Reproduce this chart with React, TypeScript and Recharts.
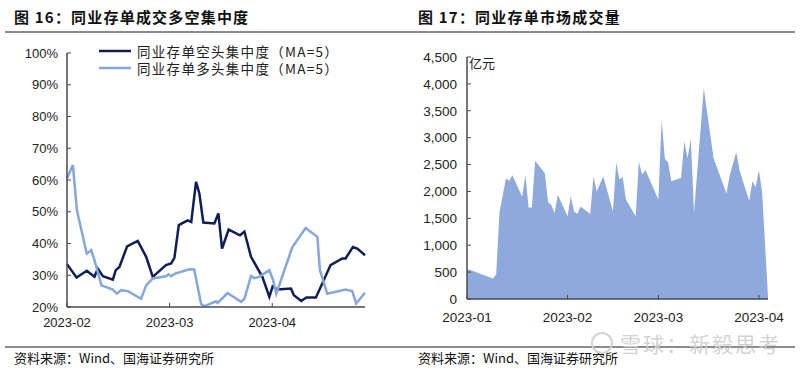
import React from 'react'
import {
  LineChart, Line, AreaChart, Area, XAxis, YAxis, Legend
} from 'recharts'

// 图16: 同业存单多空集中度 (MA=5), x = position index, 0 = 2023-02
const shortX = [0, 2.6, 5.4, 7.5, 8.4, 9.8, 12.5, 13.3, 14.3, 16.4, 19.3, 21.6, 23.4, 27, 28.4, 29.3, 30.5, 32.9, 33.9, 35.2, 36.1, 37.2, 40.2, 41.3, 42.3, 44.1, 47.2, 48.4, 50.2, 53.3, 55.2, 56.1, 57.4, 61.1, 61.9, 63.9, 65.3, 67.9, 69.4, 71.9, 75.1, 76, 78, 79.2, 81.3]
const shortY = [33.5, 29.3, 31.4, 29.5, 32.1, 29.7, 28.6, 31.6, 32.6, 39.1, 40.8, 35.8, 29.5, 33.2, 33.7, 35.5, 45.8, 47.3, 46.8, 59.4, 55.8, 46.6, 46.3, 49.5, 38.4, 44.4, 42.6, 43.7, 35.8, 29.5, 23.2, 26.5, 25.5, 25.8, 23.7, 21.9, 23.0, 23.0, 26.8, 33.2, 35.3, 35.3, 38.9, 38.4, 36.3]
const longX = [0, 1.6, 2.7, 5.4, 6.6, 7.5, 9.4, 12.5, 13.6, 14.8, 16.6, 20.2, 21.6, 23.4, 27, 27.7, 28.4, 29.5, 33.4, 34.7, 36.6, 37.5, 40.7, 41.1, 43.8, 47.5, 48.4, 50.2, 51.1, 52.4, 55.2, 56.2, 57.1, 61.5, 65.1, 68.3, 69, 71, 76, 77.8, 78.9, 81.3]
const longY = [60.5, 64.7, 50.5, 36.8, 37.9, 34.7, 26.8, 25.5, 24.2, 25.3, 25.0, 22.6, 26.8, 29.0, 29.7, 30.3, 29.7, 30.5, 31.9, 31.8, 20.9, 20.3, 21.8, 21.3, 24.4, 21.6, 22.6, 29.8, 29.1, 29.5, 31.6, 28.6, 24.2, 38.9, 44.9, 42.1, 31.6, 24.2, 25.5, 25.0, 21.1, 24.5]
const leftTicks = [0, 28, 56]
const leftTickLabels = ['2023-02', '2023-03', '2023-04']
const pctTicks = [20, 30, 40, 50, 60, 70, 80, 90, 100]

// 图17: 同业存单市场成交量 (亿元), x = days since 2023-01-01
const volDays = [0, 1, 8, 9, 10, 12, 13, 14, 17, 18, 19, 20, 21, 24, 25, 26, 27, 28, 31, 32, 33, 34, 35, 38, 39, 40, 42, 45, 46, 47, 48, 49, 52, 53, 54, 55, 59, 60, 61, 62, 63, 66, 67, 68, 69, 70, 73, 76, 80, 81, 83, 84, 87, 88, 89, 90, 91, 92.8]
const volumes = [560, 540, 380, 460, 1600, 2240, 2200, 2300, 1900, 2300, 1700, 1700, 2570, 2340, 1800, 1750, 1600, 1940, 1540, 1910, 1630, 1580, 1720, 1580, 2280, 2000, 2280, 1630, 2540, 2220, 2270, 1850, 1540, 2550, 2310, 2400, 1850, 3330, 2610, 2540, 2190, 2250, 2930, 2620, 2970, 1610, 3920, 2620, 1960, 2300, 2730, 2400, 1820, 2190, 2080, 2400, 1970, 40]
const rightTicks = [0, 31, 59, 90]
const rightTickLabels = ['2023-01', '2023-02', '2023-03', '2023-04']
const volTicks = [0, 500, 1000, 1500, 2000, 2500, 3000, 3500, 4000, 4500]

const DARK = '#0F1E5A'
const LIGHT = '#86A6DE'
const AREA = '#8EA9DB'
const AXIS = '#4A4A4A'
const NUM_FONT = '"Liberation Sans", Arial, sans-serif'
const CJK_FONT = '"Noto Sans CJK SC", "Noto Sans", sans-serif'

const shortData = shortX.map((u, i) => ({ u, v: shortY[i] }))
const longData = longX.map((u, i) => ({ u, v: longY[i] }))
const volData = volDays.map((d, i) => ({ d, v: volumes[i] }))

const legendItems = [
  { name: '同业存单空头集中度（MA=5）', color: DARK },
  { name: '同业存单多头集中度（MA=5）', color: LIGHT },
]

const renderLegend = () => (
  <div>
    {legendItems.map((it) => (
      <div key={it.name} style={{ display: 'flex', alignItems: 'center', height: 17 }}>
        <svg width={32} height={6} style={{ marginRight: 6 }}>
          <line x1={0} y1={3} x2={32} y2={3} stroke={it.color} strokeWidth={2.5} />
        </svg>
        <div style={{ fontFamily: CJK_FONT, fontSize: 13.5, letterSpacing: 1.3, color: '#222', lineHeight: '16px', height: 16, whiteSpace: 'nowrap' }}>{it.name}</div>
      </div>
    ))}
  </div>
)

const titleStyle: React.CSSProperties = {
  position: 'absolute', top: 6, fontFamily: CJK_FONT, fontWeight: 'bold',
  fontSize: 15, letterSpacing: 1.2, color: '#111', whiteSpace: 'nowrap'
}
const footStyle: React.CSSProperties = {
  position: 'absolute', top: 348, fontFamily: CJK_FONT, fontSize: 13, color: '#111', whiteSpace: 'nowrap'
}

export default function App() {
  const tickStyle = { fill: '#222', fontSize: 13, fontFamily: NUM_FONT }
  return (
    <div style={{ position: 'absolute', left: 0, top: 0, width: 800, height: 370, background: '#fff', overflow: 'hidden' }}>
      <div style={{ ...titleStyle, left: 14 }}>图 16：同业存单成交多空集中度</div>
      <div style={{ ...titleStyle, left: 418 }}>图 17：同业存单市场成交量</div>
      <div style={{ position: 'absolute', left: 5, top: 31, width: 790, height: 2, background: '#8C8C8C' }} />

      <div style={{ position: 'absolute', left: 0, top: 0 }}>
        <LineChart width={400} height={340} margin={{ top: 53, right: 35, bottom: 8, left: 0 }}>
          <XAxis
            type="number" dataKey="u" domain={[0, 81.3]} ticks={leftTicks}
            tickFormatter={(v) => leftTickLabels[leftTicks.indexOf(v)] ?? ''}
            height={25} tickSize={-4} tickMargin={15}
            axisLine={{ stroke: AXIS, strokeWidth: 1.5 }} tickLine={{ stroke: AXIS }}
            tick={tickStyle} interval={0}
          />
          <YAxis
            type="number" domain={[20, 100]} ticks={pctTicks} width={67}
            tickFormatter={(v) => `${v}%`} tickSize={-4} tickMargin={13}
            axisLine={{ stroke: AXIS, strokeWidth: 1.5 }} tickLine={{ stroke: AXIS }}
            tick={tickStyle} interval={0}
          />
          <Legend content={renderLegend} layout="horizontal" verticalAlign="middle" align="center"
            wrapperStyle={{ top: 42, left: 99, width: 280 }} />
          <Line data={shortData} dataKey="v" name="同业存单空头集中度（MA=5）" type="linear"
            stroke={DARK} strokeWidth={2.5} dot={false} isAnimationActive={false} />
          <Line data={longData} dataKey="v" name="同业存单多头集中度（MA=5）" type="linear"
            stroke={LIGHT} strokeWidth={2.5} dot={false} isAnimationActive={false} />
        </LineChart>
      </div>

      <div style={{ position: 'absolute', left: 400, top: 0 }}>
        <AreaChart width={400} height={340} data={volData} margin={{ top: 57, right: 32, bottom: 15, left: 0 }}>
          <XAxis
            type="number" dataKey="d" domain={[0, 92.8]} ticks={rightTicks}
            tickFormatter={(v) => rightTickLabels[rightTicks.indexOf(v)] ?? ''}
            height={26} tickSize={-4} tickMargin={17}
            axisLine={{ stroke: AXIS, strokeWidth: 1.5 }} tickLine={{ stroke: AXIS }}
            tick={{ ...tickStyle, fontSize: 13.5 }} interval={0}
          />
          <YAxis
            type="number" domain={[0, 4500]} ticks={volTicks} width={67}
            tickFormatter={(v) => v.toLocaleString('en-US')} tickSize={-4} tickMargin={14}
            axisLine={{ stroke: AXIS, strokeWidth: 1.5 }} tickLine={{ stroke: AXIS }}
            tick={{ ...tickStyle, fontSize: 13.5 }} interval={0}
          />
          <Area dataKey="v" type="linear" stroke="none" fill={AREA} fillOpacity={1}
            isAnimationActive={false} />
        </AreaChart>
      </div>
      <div style={{ position: 'absolute', left: 469, top: 53, fontFamily: CJK_FONT, fontSize: 13, color: '#222' }}>亿元</div>

      <div style={{ position: 'absolute', left: 5, top: 346, width: 790, height: 2, background: '#8C8C8C' }} />
      <div style={{ ...footStyle, left: 14 }}>资料来源：Wind、国海证券研究所</div>
      <div style={{ ...footStyle, left: 418 }}>资料来源：Wind、国海证券研究所</div>

      <div style={{ position: 'absolute', left: 590, top: 328, display: 'flex', alignItems: 'center', color: '#cfcfcf', fontFamily: CJK_FONT, fontSize: 21, opacity: 0.9 }}>
        <svg width={24} height={24} style={{ marginRight: 6 }}>
          <circle cx={12} cy={12} r={10} fill="none" stroke="#cfcfcf" strokeWidth={2} />
        </svg>
        <span style={{ letterSpacing: 2 }}>雪球：新毅思考</span>
      </div>
    </div>
  )
}
